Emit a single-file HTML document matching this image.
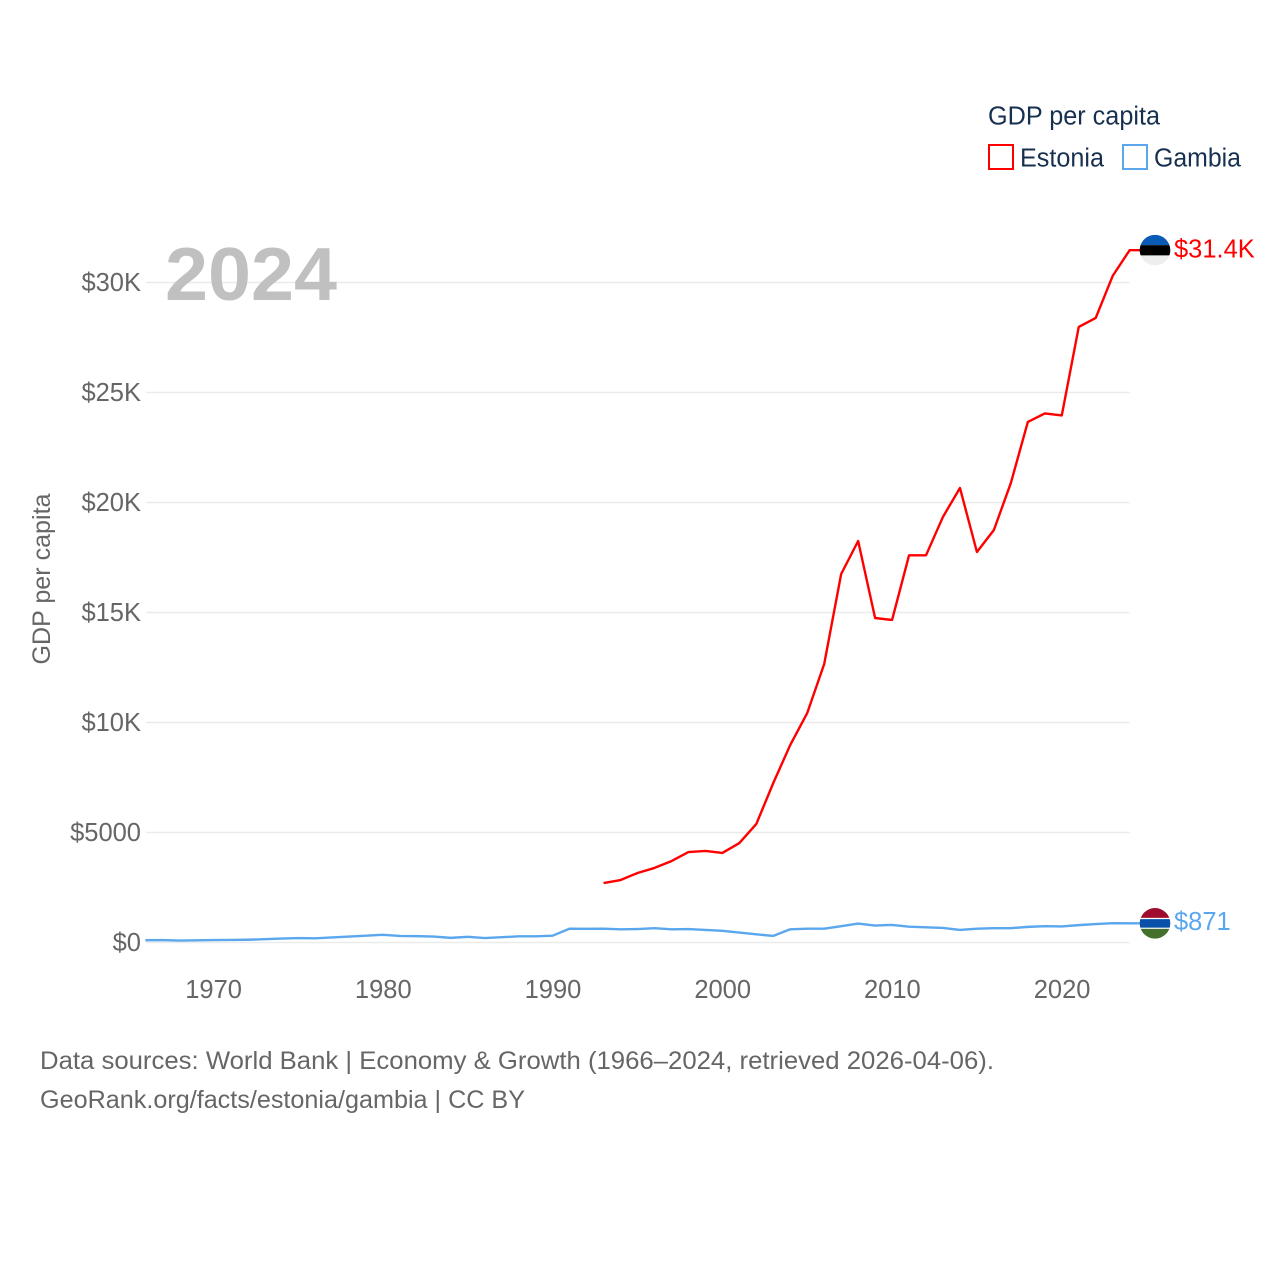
<!DOCTYPE html>
<html lang="en">
<head>
<meta charset="utf-8">
<title>GDP per capita: Estonia vs Gambia</title>
<style>
html,body{margin:0;padding:0;background:#fff;width:1280px;height:1280px;overflow:hidden}
svg{display:block}
text{font-family:"Liberation Sans",sans-serif}
</style>
</head>
<body>
<svg id="chart" width="1280" height="1280" viewBox="0 0 1280 1280" xmlns="http://www.w3.org/2000/svg">
  <defs>
    <clipPath id="clip-estonia"><circle id="clip-estonia-circle" r="15.3"/></clipPath>
    <clipPath id="clip-gambia"><circle id="clip-gambia-circle" r="15.3"/></clipPath>
  </defs>
  <g id="grid"></g>
  <g id="yticks"></g>
  <g id="xticks"></g>
  <text x="165" y="300" font-size="75" font-weight="700" fill="#c0c0c0" textLength="172" lengthAdjust="spacingAndGlyphs">2024</text>
  <text transform="translate(50,579) rotate(-90)" text-anchor="middle" font-size="25" fill="#666" textLength="171" lengthAdjust="spacingAndGlyphs">GDP per capita</text>
  <path id="line-estonia" fill="none" stroke="#ff0000" stroke-width="2.4" stroke-linejoin="round"/>
  <path id="line-gambia" fill="none" stroke="#5ba7ee" stroke-width="2.4" stroke-linejoin="round"/>
  <g id="flag-estonia" clip-path="url(#clip-estonia)">
    <rect id="ee-a" x="1139" width="32" height="10.5" fill="#0a5bb5"/>
    <rect id="ee-b" x="1139" width="32" height="10.5" fill="#000"/>
    <rect id="ee-c" x="1139" width="32" height="11" fill="#eeeeee"/>
  </g>
  <g id="flag-gambia" clip-path="url(#clip-gambia)">
    <rect id="gm-a" x="1139" width="32" height="11" fill="#a00c2e"/>
    <rect id="gm-b" x="1139" width="32" height="10" fill="#ffffff"/>
    <rect id="gm-c" x="1139" width="32" height="8.5" fill="#0a4fa8"/>
    <rect id="gm-d" x="1139" width="32" height="11" fill="#44702e"/>
  </g>
  <text id="label-estonia" x="1174" font-size="25.5" fill="#ff0000">$31.4K</text>
  <text id="label-gambia" x="1174" font-size="25.5" fill="#5ba7ee">$871</text>

  <g>
    <text x="988" y="124.5" font-size="25.5" fill="#17304f" textLength="172" lengthAdjust="spacingAndGlyphs">GDP per capita</text>
    <g>
      <rect x="989" y="145" width="24" height="24" fill="#fff" stroke="#ff0000" stroke-width="2"/>
      <text x="1020" y="166.5" font-size="25.5" fill="#17304f" textLength="84" lengthAdjust="spacingAndGlyphs">Estonia</text>
    </g>
    <g>
      <rect x="1123" y="145" width="24" height="24" fill="#fff" stroke="#5ba7ee" stroke-width="2"/>
      <text x="1154" y="166.5" font-size="25.5" fill="#17304f" textLength="87" lengthAdjust="spacingAndGlyphs">Gambia</text>
    </g>
  </g>

  <text x="40" y="1069" font-size="25" fill="#666" textLength="954" lengthAdjust="spacingAndGlyphs">Data sources: World Bank | Economy &amp; Growth (1966–2024, retrieved 2026-04-06).</text>
  <text x="40" y="1108" font-size="25" fill="#666" textLength="485" lengthAdjust="spacingAndGlyphs">GeoRank.org/facts/estonia/gambia | CC BY</text>
</svg>
<script>
const yTickValues = [0, 5000, 10000, 15000, 20000, 25000, 30000];
const yTickLabels = ["$0", "$5000", "$10K", "$15K", "$20K", "$25K", "$30K"];
const xTickYears = [1970, 1980, 1990, 2000, 2010, 2020];
const estoniaStartYear = 1993;
const estoniaValues = [2700, 2840, 3160, 3390, 3700, 4110, 4160, 4070, 4520, 5390, 7250, 8980, 10430, 12660, 16750, 18250, 14750, 14660, 17600, 17600, 19350, 20660, 17750, 18750, 20890, 23660, 24050, 23960, 27980, 28390, 30300, 31470];
const gambiaStartYear = 1966;
const gambiaValues = [105, 110, 90, 100, 110, 115, 125, 150, 180, 200, 190, 230, 270, 310, 350, 300, 290, 270, 210, 260, 200, 240, 280, 280, 310, 630, 620, 630, 600, 610, 650, 600, 610, 570, 530, 450, 370, 300, 600, 630, 630, 740, 860, 770, 800, 720, 690, 660, 570, 630, 650, 650, 710, 740, 730, 790, 840, 880, 871];

const NS = 'http://www.w3.org/2000/svg';
function xScale(year) { return 145.4 + (year - 1966) * 16.97; }
function yScale(value) { return 942.5 - value * 0.022; }
const plotRight = xScale(2024);
const flagCx = 1155;

const grid = document.getElementById('grid');
const yticks = document.getElementById('yticks');
yTickValues.forEach(function (v, i) {
  const ln = document.createElementNS(NS, 'line');
  
  
  ln.setAttribute('x1', 146);
  ln.setAttribute('x2', plotRight);
  ln.setAttribute('y1', yScale(v));
  ln.setAttribute('y2', yScale(v));
  ln.setAttribute('stroke', '#ebebeb');
  ln.setAttribute('stroke-width', '1.5');
  grid.appendChild(ln);
  const t = document.createElementNS(NS, 'text');
  
  
  t.setAttribute('x', 141);
  t.setAttribute('y', yScale(v) + 8.5);
  t.setAttribute('text-anchor', 'end');
  t.setAttribute('font-size', '25.5');
  t.setAttribute('fill', '#666');
  t.textContent = yTickLabels[i];
  yticks.appendChild(t);
});

const xticks = document.getElementById('xticks');
xTickYears.forEach(function (yr) {
  const t = document.createElementNS(NS, 'text');
  
  
  t.setAttribute('x', xScale(yr) + 0.3);
  t.setAttribute('y', 998);
  t.setAttribute('text-anchor', 'middle');
  t.setAttribute('font-size', '25.5');
  t.setAttribute('fill', '#666');
  t.textContent = yr;
  xticks.appendChild(t);
});

function linePath(start, values) {
  let d = values.map(function (v, i) {
    return (i ? 'L' : 'M') + xScale(start + i).toFixed(2) + ' ' + yScale(v).toFixed(2);
  }).join(' ');
  d += ' L' + (flagCx - 15) + ' ' + yScale(values[values.length - 1]).toFixed(2);
  return d;
}
document.getElementById('line-estonia').setAttribute('d', linePath(estoniaStartYear, estoniaValues));
document.getElementById('line-gambia').setAttribute('d', linePath(gambiaStartYear, gambiaValues));

const eeY = yScale(estoniaValues[estoniaValues.length - 1]);
const gmY = yScale(gambiaValues[gambiaValues.length - 1]);
const eeC = document.getElementById('clip-estonia-circle');
eeC.setAttribute('cx', flagCx);
eeC.setAttribute('cy', eeY);
const gmC = document.getElementById('clip-gambia-circle');
gmC.setAttribute('cx', flagCx);
gmC.setAttribute('cy', gmY);
document.getElementById('ee-a').setAttribute('y', eeY - 15.5);
document.getElementById('ee-b').setAttribute('y', eeY - 5);
document.getElementById('ee-c').setAttribute('y', eeY + 5.2);
document.getElementById('gm-a').setAttribute('y', gmY - 15.5);
document.getElementById('gm-b').setAttribute('y', gmY - 5.5);
document.getElementById('gm-c').setAttribute('y', gmY - 4.2);
document.getElementById('gm-d').setAttribute('y', gmY + 5.5);
document.getElementById('label-estonia').setAttribute('y', eeY + 7.5);
document.getElementById('label-gambia').setAttribute('y', gmY + 6.5);
</script>
</body>
</html>
